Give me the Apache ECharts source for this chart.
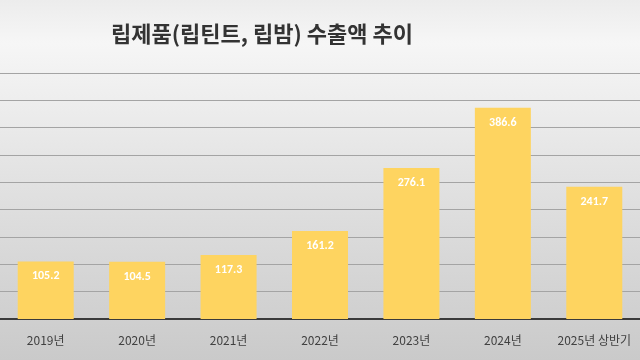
<!DOCTYPE html>
<html><head><meta charset="utf-8">
<script src="https://cdn.jsdelivr.net/npm/echarts@6/dist/echarts.min.js"></script>
<style>html,body{margin:0;padding:0;}#c{width:640px;height:360px;}</style>
</head><body><div id="c"></div>
<script>
const categories = ['2019년','2020년','2021년','2022년','2023년','2024년','2025년 상반기'];
const values = [105.2, 104.5, 117.3, 161.2, 276.1, 386.6, 241.7];
const titleText = '립제품(립틴트, 립밤) 수출액 추이';

const chart = echarts.init(document.getElementById('c'));
chart.setOption({
  backgroundColor: {
    type: 'linear', x: 0, y: 0, x2: 0, y2: 1,
    colorStops: [
      {offset: 0, color: '#ececec'},
      {offset: 0.12, color: '#f6f6f6'},
      {offset: 0.5, color: '#e2e2e2'},
      {offset: 1, color: '#cacaca'}
    ]
  },
  title: {
    text: titleText, left: 106, top: 18,
    textStyle: {fontFamily: '"Noto Sans CJK KR", sans-serif', fontSize: 22, fontWeight: 'bold', color: '#333333'}
  },
  grid: {left: 0, right: 0, top: 73, bottom: 41, containLabel: false},
  xAxis: {
    type: 'category', data: categories,
    axisTick: {show: false},
    axisLine: {lineStyle: {color: '#3a3a3a', width: 2}},
    axisLabel: {color: '#404040', fontSize: 12, margin: 15, interval: 0,
      fontFamily: '"Noto Sans CJK KR", sans-serif'}
  },
  yAxis: {
    type: 'value', min: 0, max: 450, interval: 50,
    axisLabel: {show: false}, axisLine: {show: false}, axisTick: {show: false},
    splitLine: {lineStyle: {color: '#a4a4a4', width: 1}}
  },
  series: [{
    type: 'bar', data: values, barWidth: 56,
    itemStyle: {color: '#fed460'},
    label: {show: true, position: 'insideTop', distance: 9, color: '#ffffff',
      fontSize: 12, fontWeight: 'bold', fontFamily: 'Calibri, "Liberation Sans", sans-serif'}
  }]
});
</script></body></html>
